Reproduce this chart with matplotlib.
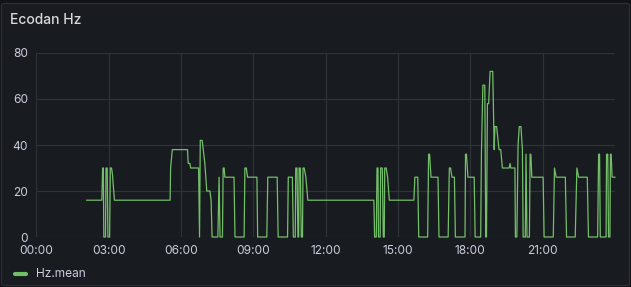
import matplotlib
matplotlib.use("Agg")
import matplotlib.pyplot as plt
from matplotlib.patches import FancyBboxPatch
from matplotlib.lines import Line2D

# time of day in hours, Hz mean
hours = [2.09, 2.72, 2.75, 2.78, 2.80, 2.87, 2.89, 2.94, 2.97, 3.04, 3.07, 3.12, 3.16, 3.24,
         5.55, 5.57, 5.64, 6.27, 6.30, 6.37, 6.40, 6.73, 6.77, 6.80, 6.88, 6.99, 7.07, 7.20,
         7.25, 7.29, 7.53, 7.58, 7.62, 7.72, 7.75, 7.79, 7.82, 8.20, 8.24, 8.62, 8.65, 8.71,
         8.76, 9.15, 9.18, 9.56, 9.60, 9.99, 10.03, 10.42, 10.45, 10.62, 10.66, 10.74, 10.76,
         10.81, 10.85, 10.88, 10.90, 10.95, 10.99, 11.04, 11.06, 11.11, 11.18, 11.26,
         14.00, 14.03, 14.10, 14.13, 14.17, 14.19, 14.26, 14.28, 14.35, 14.39, 14.43, 14.45,
         14.51, 14.57, 14.64, 15.66, 15.70, 15.82, 15.86, 16.23, 16.27, 16.31, 16.37, 16.66,
         16.70, 17.08, 17.13, 17.18, 17.24, 17.34, 17.38, 17.78, 17.80, 17.84, 17.90, 18.16,
         18.20, 18.43, 18.46, 18.52, 18.60, 18.64, 18.67, 18.71, 18.76, 18.82, 18.93, 18.97,
         18.99, 19.02, 19.09, 19.19, 19.26, 19.33, 19.61, 19.65, 19.68, 19.85, 19.87, 19.93,
         19.98, 20.03, 20.10, 20.16, 20.19, 20.28, 20.31, 20.35, 20.45, 20.48, 20.51, 20.55,
         21.02, 21.06, 21.44, 21.49, 21.56, 21.94, 21.99, 22.35, 22.42, 22.49, 22.85, 22.90,
         23.28, 23.32, 23.36, 23.39, 23.63, 23.65, 23.70, 23.73, 23.79, 23.81, 23.84, 23.88,
         24.0]
hz = [16, 16, 30, 30, 0, 0, 30, 30, 0, 0, 30, 30, 27, 16,
      16, 30, 38, 38, 32, 32, 30, 30, 0, 42, 42, 32, 20, 20,
      16, 0, 0, 26, 0, 0, 30, 30, 26, 26, 0, 0, 30, 30,
      26, 26, 0, 0, 26, 26, 0, 0, 26, 26, 0, 0, 30,
      30, 0, 0, 30, 30, 0, 0, 30, 30, 26, 16,
      16, 0, 0, 30, 30, 0, 0, 30, 30, 0, 0, 30,
      30, 26, 16, 16, 26, 26, 0, 0, 36, 36, 26, 26,
      0, 0, 30, 30, 26, 26, 0, 0, 36, 36, 26, 26,
      0, 0, 36, 66, 66, 0, 0, 58, 58, 72, 72, 48,
      38, 48, 48, 38, 38, 30, 30, 32, 30, 30, 0, 0,
      40, 48, 48, 38, 0, 0, 36, 0, 0, 36, 36, 26,
      26, 0, 0, 30, 26, 26, 0, 0, 30, 26, 26, 0,
      0, 36, 36, 0, 0, 36, 36, 0, 0, 36, 36, 26,
      26]

x_ticks = [0, 3, 6, 9, 12, 15, 18, 21]
x_labels = ["00:00", "03:00", "06:00", "09:00", "12:00", "15:00", "18:00", "21:00"]
y_ticks = [0, 20, 40, 60, 80]

bg = "#181b1f"
txt = "#ccccdc"
green = "#73bf69"
plt.rcParams["font.family"] = ["Inter", "DejaVu Sans"]

fig = plt.figure(figsize=(6.31, 2.87), dpi=100, facecolor="#111217")
fig.patches.append(FancyBboxPatch((1.5 / 631, 1.5 / 287), 628 / 631, 282 / 287,
                                  boxstyle="round,pad=0,rounding_size=0.006",
                                  transform=fig.transFigure, facecolor=bg,
                                  edgecolor="#2a2d33", linewidth=1, zorder=-1))

ax = fig.add_axes([36.3 / 631, 50 / 287, (615 - 36.3) / 631, 184 / 287])
ax.set_facecolor(bg)
ax.plot(hours, hz, color=green, lw=0.9, clip_on=False)
ax.set_xlim(0, 24.0)
ax.set_ylim(0, 80)
ax.set_xticks(x_ticks)
ax.set_xticklabels(x_labels)
ax.set_yticks(y_ticks)
ax.grid(True, color="#2f3237", lw=0.9)
ax.set_axisbelow(True)
for s in ax.spines.values():
    s.set_visible(False)
ax.tick_params(length=0, colors=txt, labelsize=8.6, pad=6)
ax.tick_params(axis="y", pad=6)

fig.text(10 / 631, 1 - 20 / 287, "Ecodan Hz", color="#d8d9da", fontsize=10,
         fontweight="medium", va="center", ha="left")

fig.lines.append(Line2D([15 / 631, 26 / 631], [1 - 274 / 287] * 2, transform=fig.transFigure,
                        color=green, lw=3, solid_capstyle="round"))
fig.text(36 / 631, 1 - 274 / 287, "Hz.mean", color=txt, fontsize=8.6, va="center", ha="left")

fig.savefig("out.png", dpi=100, facecolor=fig.get_facecolor())
